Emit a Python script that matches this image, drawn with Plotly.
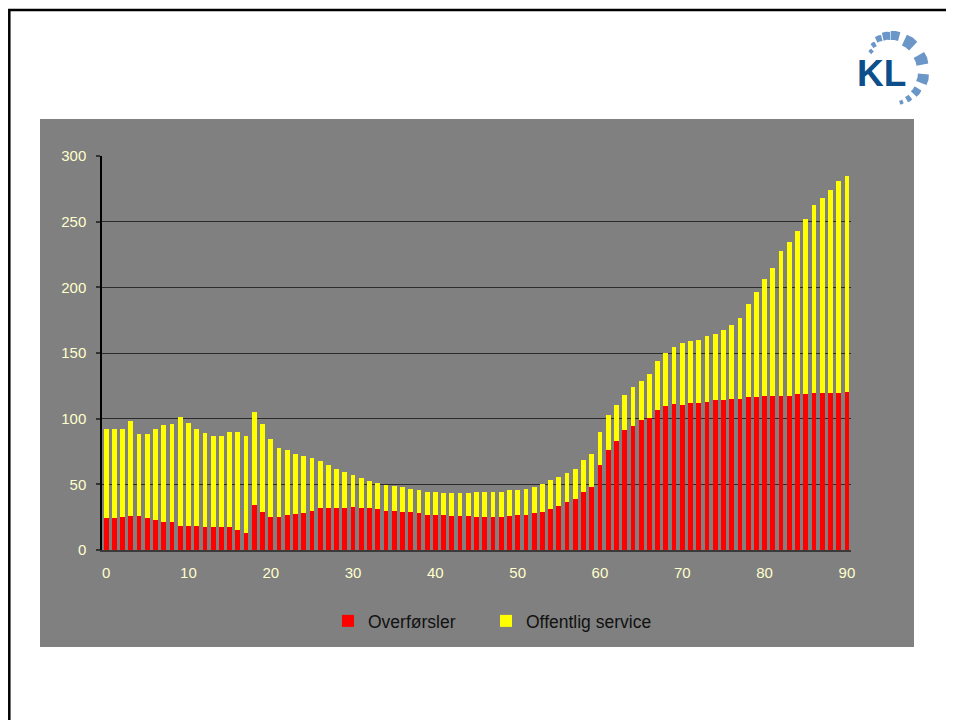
import math
import plotly.graph_objects as go

ages = list(range(0, 91))
overforsler = [24.7, 24.7, 25, 26, 26, 24, 23, 21.6, 21, 18.6,
               18.6, 18.6, 17.8, 17.8, 17.8, 17.8, 15.5, 13.2, 34, 29,
               25.5, 24.8, 26.4, 27.2, 28, 29.5, 31.8, 31.8, 31.8, 31.8,
               32.6, 31.8, 31.8, 31, 29.5, 29.5, 28.7, 28.7, 28, 26.4,
               26.4, 26.5, 25.8, 25.8, 25.9, 25.1, 25.1, 25.1, 25.1, 25.9,
               26.6, 26.6, 28.2, 28.9, 31.2, 33.5, 36.5, 38.8, 44.2, 48,
               64.7, 76.1, 83, 91.4, 94.4, 99, 100.5, 106.6, 109.6, 111.2,
               110.4, 111.9, 111.9, 112.7, 114.2, 114.2, 115, 115, 116.5, 116.5,
               117.3, 117.3, 117.3, 117.3, 118.8, 118.8, 119.5, 119.5, 119.5, 119.5,
               120.3]
offentlig_service = [67.7, 67.7, 67.4, 72, 62, 64, 69, 73.4, 74.7, 82.4,
                     78.4, 73.4, 71.2, 68.7, 69.2, 71.8, 74.1, 73.8, 71, 67,
                     59, 52.9, 50, 46.1, 43.8, 40.8, 36.2, 33.2, 30, 27.7,
                     24.6, 23.1, 20.8, 20, 20, 19.2, 19.3, 17.7, 17.6, 17.6,
                     17.6, 16.9, 17.6, 17.6, 17.5, 19.1, 19.1, 19.1, 19.1, 19.8,
                     19.1, 19.8, 19.8, 21.4, 22.1, 22.1, 22.1, 22.9, 24.3, 25.1,
                     25.1, 26.7, 27.4, 26.6, 29.6, 29.7, 33.5, 37.3, 40.4, 43.4,
                     47.2, 47.2, 48, 50.3, 50.3, 53.3, 56.3, 61.6, 70.8, 79.9,
                     89, 97.4, 110.4, 117.2, 124.1, 133.2, 143.2, 148.5, 154.6, 161.5,
                     164.5]
x_tick_vals = [0, 10, 20, 30, 40, 50, 60, 70, 80, 90]
x_tick_text = ["0", "10", "20", "30", "40", "50", "60", "70", "80", "90"]
y_tick_vals = [0, 50, 100, 150, 200, 250, 300]

# page offset of the figure (body margin)
OFF = 8
PAGE_W, PAGE_H = 954, 720
W, H = PAGE_W - OFF, PAGE_H - OFF
L, R, T, B = 102, 851, 156, 550   # plot area in page pixels


def px(x):
    return (x - L) / (R - L)


def py(y):
    return (B - y) / (B - T)


FONT = "Liberation Sans, Arial, sans-serif"
LABEL_COLOR = "#FFFFCC"
LEG_FONT = dict(family=FONT, size=17.5, color="#111111")

fig = go.Figure()
fig.add_trace(go.Bar(x=ages, y=overforsler, name="Overførsler", legend="legend",
                     marker=dict(color="#FF0000", line=dict(width=0))))
fig.add_trace(go.Bar(x=ages, y=offentlig_service, name="Offentlig service", legend="legend2",
                     marker=dict(color="#FFFF00", line=dict(width=0))))

shapes = []
# grey chart area
shapes.append(dict(type="rect", xref="paper", yref="paper",
                   x0=px(40), x1=px(914), y0=py(647), y1=py(119),
                   fillcolor="#808080", line=dict(width=0), layer="below"))
# slide frame
shapes.append(dict(type="rect", xref="paper", yref="paper",
                   x0=px(9.3), x1=px(1010), y0=py(800), y1=py(10),
                   fillcolor="rgba(0,0,0,0)", line=dict(color="#000000", width=2.5),
                   layer="below"))

# KL logo arc segments
cx, cy = 890, 71
segs = [(-44, 25, 29, 4), (-32, 28, 33, 4), (-19, 31, 37, 5), (-6, 31, 39, 6),
        (8, 31, 40, 7), (34, 28, 40, 9), (70, 27, 39, 9), (103, 28, 39, 8),
        (128, 29, 37, 6), (146, 30, 36, 4), (160, 31, 35, 3)]


def pt(a, r):
    ar = math.radians(a)
    return px(cx + r * math.sin(ar)), py(cy - r * math.cos(ar))


for a, r1, r2, hw in segs:
    pts = [pt(a - hw, r1), pt(a - hw, r2), pt(a, r2 + 0.5), pt(a + hw, r2), pt(a + hw, r1), pt(a, r1 + 0.3)]
    path = "M " + " L ".join(f"{p[0]:.5f},{p[1]:.5f}" for p in pts) + " Z"
    shapes.append(dict(type="path", xref="paper", yref="paper", path=path,
                       fillcolor="#6b96c8", line=dict(width=0), layer="above"))

fig.update_layout(
    width=W, height=H,
    margin=dict(l=L - OFF, r=PAGE_W - R, t=T - OFF, b=PAGE_H - B, pad=0),
    paper_bgcolor="#FFFFFF",
    plot_bgcolor="#808080",
    barmode="stack",
    bargap=0.42,
    shapes=shapes,
    font=dict(family=FONT),
    showlegend=True,
    legend=dict(orientation="h", x=px(328), y=py(621), xanchor="left", yanchor="middle",
                font=LEG_FONT, bgcolor="rgba(0,0,0,0)"),
    legend2=dict(orientation="h", x=px(486), y=py(621), xanchor="left", yanchor="middle",
                 font=LEG_FONT, bgcolor="rgba(0,0,0,0)"),
    xaxis=dict(range=[-0.5, 90.5], tickvals=x_tick_vals, ticktext=x_tick_text,
               ticks="", showgrid=False, zeroline=False,
               showline=True, linecolor="#3a3a3a", linewidth=2,
               tickfont=dict(family=FONT, size=15, color=LABEL_COLOR),
               ticklabelstandoff=8),
    xaxis2=dict(range=[-0.5, 90.5], overlaying="x", anchor="y", side="bottom",
                tickvals=[v - 0.5 for v in x_tick_vals], ticks="outside", ticklen=4,
                tickwidth=1.5, tickcolor="#000000",
                showticklabels=False, showgrid=False, zeroline=False, showline=False),
    yaxis=dict(range=[0, 300], tickvals=y_tick_vals, ticks="outside", ticklen=4,
               tickwidth=2, tickcolor="#333333",
               showgrid=True, gridcolor="#2b2b2b", gridwidth=1,
               zeroline=False, showline=True, linecolor="#000000", linewidth=1.5,
               tickfont=dict(family=FONT, size=15, color=LABEL_COLOR),
               ticklabelstandoff=7),
    yaxis2=dict(range=[0, 300], tickvals=y_tick_vals, overlaying="y", side="right",
                anchor="x", ticks="outside", ticklen=5, tickwidth=2, tickcolor="#333333",
                showgrid=False, zeroline=False, showline=True, linecolor="#000000",
                linewidth=1.5, tickfont=dict(family=FONT, size=15, color=LABEL_COLOR),
                ticklabelstandoff=6),
    annotations=[dict(text="<b>KL</b>", xref="paper", yref="paper",
                      x=px(881), y=py(74), xanchor="center", yanchor="middle",
                      showarrow=False,
                      font=dict(family=FONT, size=37, color="#0d4f8b"))],
)

fig.write_html("out.html")
